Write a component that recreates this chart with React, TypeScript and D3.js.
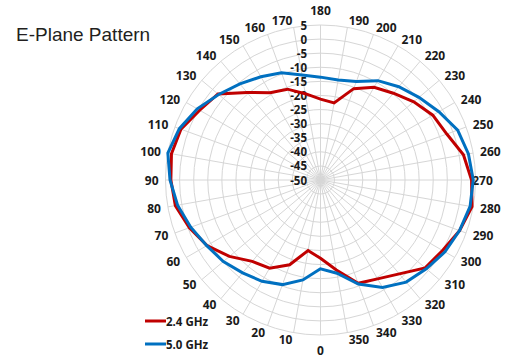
import React from "react";
import * as d3 from "d3";

const angles: number[] = d3.range(0, 360, 10);
const angleLabels: string[] = angles.map((a) => String(a));
const radialTicks: number[] = [5, 0, -5, -10, -15, -20, -25, -30, -35, -40, -45, -50];

const seriesNames: string[] = ["2.4 GHz", "5.0 GHz"];
const seriesColors: string[] = ["#C00000", "#0070C0"];

const red24: number[] = [
  -22.2, -24.6, -18, -13.9, -12.3, -7.8, -3.5, -0.5, 2.3, 3.1, 3.7, 2.7,
  -0.5, -2.5, -9.5, -14.2, -15.7, -18.9, -21.3, -22.2, -15.5, -12, -9.8, -6.8,
  -4, -2.3, 1.5, 3.6, 4.6, 2.5, 0, -1.5, -6.5, -9.5, -11, -17.6,
];
const blue50: number[] = [
  -18.5, -14, -10.5, -8.5, -7, -5, -3.4, -1, 1.5, 3.4, 5, 3.3,
  0.5, -2.8, -5.5, -7.7, -9.5, -12.2, -13.5, -14, -12.8, -9.3, -6.8, -4.4,
  -1.5, 1.8, 3.3, 4.2, 3.9, 2.5, 1, -1, -2.7, -6, -10.7, -16.4,
];

const W = 516;
const H = 360;
const cx = 320.5;
const cy = 180;
const R = 155;

export default function App() {
  const r = d3.scaleLinear().domain([-50, 5]).range([0, R]);
  const ang = d3.scaleLinear().domain([0, 360]).range([Math.PI, 3 * Math.PI]);
  const pt = (deg: number, rad: number): [number, number] => {
    const a = ang(deg);
    return [cx + rad * Math.sin(a), cy - rad * Math.cos(a)];
  };
  const line = d3
    .lineRadial<number>()
    .angle((_, i) => ang(angles[i]))
    .radius((d) => r(d))
    .curve(d3.curveLinearClosed);
  const series = [red24, blue50];
  const labelFont = "'Open Sans', 'Noto Sans', sans-serif";

  return (
    <svg
      width={W}
      height={H}
      style={{ position: "absolute", left: 0, top: 0, background: "#fff" }}
    >
      <text
        x={16}
        y={40.5}
        fontFamily="'Liberation Sans', Arial, sans-serif"
        fontSize={19}
        fill="#231f20"
      >
        E-Plane Pattern
      </text>
      <g>
        {radialTicks
          .filter((v) => v > -50)
          .map((v) => (
            <circle key={v} cx={cx} cy={cy} r={r(v)} fill="none" stroke="#d6d6d6" strokeWidth={1} />
          ))}
        {angles.map((a) => {
          const [x, y] = pt(a, R);
          return <line key={a} x1={cx} y1={cy} x2={x} y2={y} stroke="#d6d6d6" strokeWidth={1} />;
        })}
      </g>
      <g>
        {angles.map((a, i) => {
          const ux = Math.sin(ang(a));
          const uy = -Math.cos(ang(a));
          const vertical = Math.abs(ux) < 0.01;
          const anchor = vertical ? "middle" : ux > 0.999 ? "middle" : ux > 0 ? "start" : "end";
          const [x, y] = pt(a, vertical ? R + 15 : R + 7);
          return (
            <text
              key={a}
              x={x}
              y={y}
              textAnchor={anchor}
              dominantBaseline="central"
              fontFamily={labelFont}
              fontWeight={700}
              fontSize={12}
              fill="#1a1a1a"
            >
              {angleLabels[i]}
            </text>
          );
        })}
      </g>
      <g>
        {radialTicks.map((v) => (
          <text
            key={v}
            x={cx - 13.5}
            y={cy - r(v)}
            textAnchor="end"
            dominantBaseline="central"
            fontFamily={labelFont}
            fontWeight={700}
            fontSize={11.5}
            fill="#1a1a1a"
          >
            {v}
          </text>
        ))}
      </g>
      <g transform={`translate(${cx},${cy})`}>
        {series.map((s, i) => (
          <path
            key={i}
            d={line(s) || ""}
            fill="none"
            stroke={seriesColors[i]}
            strokeWidth={3}
            strokeLinejoin="miter"
          />
        ))}
      </g>
      <g>
        {seriesNames.map((n, i) => (
          <g key={n} transform={`translate(145,${321 + i * 23})`}>
            <line x1={0} x2={21} y1={0} y2={0} stroke={seriesColors[i]} strokeWidth={3} />
            <text
              x={21}
              y={0}
              dominantBaseline="central"
              fontFamily={labelFont}
              fontWeight={700}
              fontSize={11.5}
              fill="#1a1a1a"
            >
              {n}
            </text>
          </g>
        ))}
      </g>
    </svg>
  );
}
